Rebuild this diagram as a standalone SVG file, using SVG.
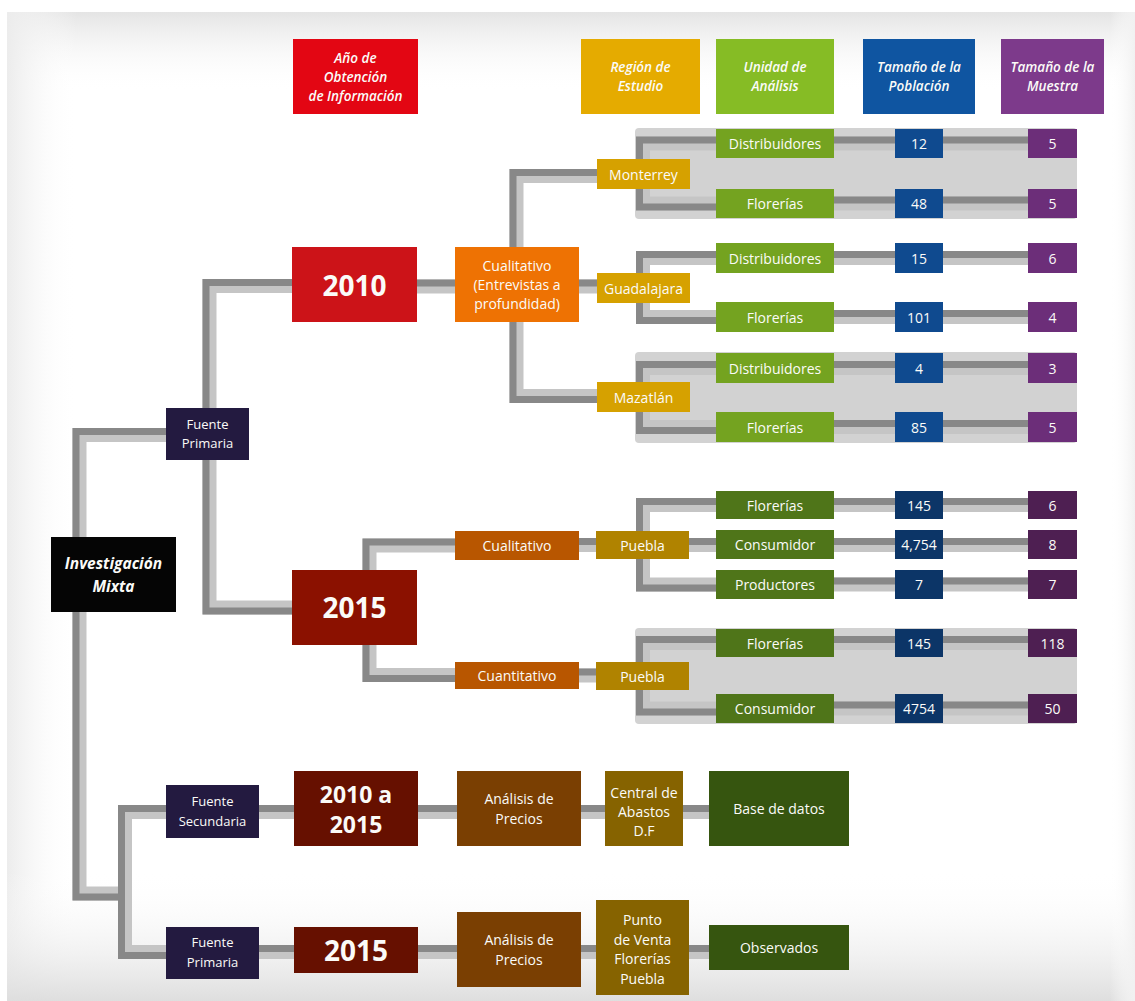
<svg xmlns="http://www.w3.org/2000/svg" width="1135" height="1001" viewBox="0 0 1135 1001">
<style>
.lt{fill:none;stroke:#c5c5c5;stroke-width:14}
.dk{fill:none;stroke:#888888;stroke-width:7}
.pn{fill:#d2d2d2}
text{font-family:"Open Sans","Liberation Sans",sans-serif;fill:#fbfbf8;text-anchor:middle;dominant-baseline:central;font-size:14px}
.hd{font-style:italic;font-weight:600;font-size:13.5px}
.yr{font-weight:700;font-size:28px}
.yr2{font-weight:700;font-size:23px}
.sm{font-size:13px}
.im{font-style:italic;font-weight:700;font-size:15.5px}
</style>
<defs>
<linearGradient id="gT" x1="0" y1="0" x2="0" y2="1"><stop offset="0" stop-color="#e4e4e4"/><stop offset="1" stop-color="#ffffff" stop-opacity="0"/></linearGradient>
<linearGradient id="gL" x1="0" y1="0" x2="1" y2="0"><stop offset="0" stop-color="#ececec"/><stop offset="1" stop-color="#ffffff" stop-opacity="0"/></linearGradient>
<linearGradient id="gB" x1="0" y1="1" x2="0" y2="0"><stop offset="0" stop-color="#dedede"/><stop offset="1" stop-color="#ffffff" stop-opacity="0"/></linearGradient>
<linearGradient id="gR" x1="1" y1="0" x2="0" y2="0"><stop offset="0" stop-color="#f1f1f1"/><stop offset="1" stop-color="#ffffff" stop-opacity="0"/></linearGradient>
</defs>
<g id="background">
<rect x="0" y="0" width="1135" height="1001" fill="#ffffff"/>
<rect x="7" y="12" width="1128" height="989" fill="#ffffff"/>
<rect x="7" y="12" width="1128" height="80" fill="url(#gT)"/>
<rect x="7" y="12" width="70" height="989" fill="url(#gL)"/>
<rect x="7" y="870" width="1128" height="131" fill="url(#gB)"/>
<rect x="1110" y="12" width="25" height="989" fill="url(#gR)"/>
</g>
<g id="panels">
<rect class="pn" x="635" y="128" width="442" height="91" rx="4"/>
<rect class="pn" x="635" y="352" width="442" height="91" rx="4"/>
<rect class="pn" x="635" y="628" width="442" height="96" rx="4"/>
</g>
<g id="connectors">
<path class="lt" d="M79.5,537 V435 H167"/>
<path class="dk" d="M76,537 V431.5 H167"/>
<path class="lt" d="M79.5,612 V893.5 H125"/>
<path class="dk" d="M76,612 V897 H125"/>
<path class="lt" d="M166,812 H125 V952 H166"/>
<path class="dk" d="M166,808.5 H121.5 V955.5 H166"/>
<path class="lt" d="M259,812 H709"/>
<path class="dk" d="M259,808.5 H709"/>
<path class="lt" d="M259,952 H709"/>
<path class="dk" d="M259,948.5 H709"/>
<path class="lt" d="M292,286 H209.5 V607.5 H292"/>
<path class="dk" d="M292,282.5 H206 V611 H292"/>
<path class="lt" d="M417,286.5 H597"/>
<path class="dk" d="M417,283 H597"/>
<path class="lt" d="M597,176 H516.5 V396 H597"/>
<path class="dk" d="M597,172.5 H513 V399.5 H597"/>
<path class="lt" d="M716,143.5 H643 V203.5 H716"/>
<path class="dk" d="M716,140 H639.5 V207 H716"/>
<path class="lt" d="M716,258 H643 V317 H716"/>
<path class="dk" d="M716,254.5 H639.5 V320.5 H716"/>
<path class="lt" d="M716,368 H643 V427 H716"/>
<path class="dk" d="M716,364.5 H639.5 V430.5 H716"/>
<path class="lt" d="M455,545.5 H369.5 V675 H455"/>
<path class="dk" d="M455,542 H366 V678.5 H455"/>
<path class="lt" d="M579,545 H1028"/>
<path class="dk" d="M579,541.5 H1028"/>
<path class="lt" d="M579,675.5 H596"/>
<path class="dk" d="M579,672 H596"/>
<path class="lt" d="M716,505 H643 V584.5 H716"/>
<path class="dk" d="M716,501.5 H639.5 V588 H716"/>
<path class="lt" d="M716,643 H643 V708.5 H716"/>
<path class="dk" d="M716,639.5 H639.5 V712 H716"/>
<path class="lt" d="M834,143.5 H1028 M834,203.5 H1028 M834,258 H1028 M834,317 H1028 M834,368 H1028 M834,427 H1028 M834,505 H1028 M834,584.5 H1028 M834,643 H1028 M834,708.5 H1028"/>
<path class="dk" d="M834,140 H1028 M834,200 H1028 M834,254.5 H1028 M834,313.5 H1028 M834,364.5 H1028 M834,423.5 H1028 M834,501.5 H1028 M834,581 H1028 M834,639.5 H1028 M834,705 H1028"/>
</g>
<g id="header-anio"><rect x="293" y="39" width="125" height="75" fill="#e30613"/><text class="hd" x="355.5" y="58">Año de</text><text class="hd" x="355.5" y="77">Obtención</text><text class="hd" x="355.5" y="96">de Información</text></g>
<g id="header-region"><rect x="581" y="39" width="119" height="75" fill="#e5ab00"/><text class="hd" x="640.5" y="67">Región de</text><text class="hd" x="640.5" y="86">Estudio</text></g>
<g id="header-unidad"><rect x="716" y="39" width="118" height="75" fill="#86bc25"/><text class="hd" x="775" y="67">Unidad de</text><text class="hd" x="775" y="86">Análisis</text></g>
<g id="header-poblacion"><rect x="863" y="39" width="112" height="75" fill="#0f55a1"/><text class="hd" x="919" y="67">Tamaño de la</text><text class="hd" x="919" y="86">Población</text></g>
<g id="header-muestra"><rect x="1001" y="39" width="103" height="75" fill="#7d3a8b"/><text class="hd" x="1052.5" y="67">Tamaño de la</text><text class="hd" x="1052.5" y="86">Muestra</text></g>
<g id="investigacion"><rect x="51" y="537" width="125" height="75" fill="#050505"/><text class="im" x="113.5" y="563">Investigación</text><text class="im" x="113.5" y="586">Mixta</text></g>
<g id="fuente-primaria-1"><rect x="166" y="408" width="83" height="52" fill="#231a40"/><text class="sm" x="207.5" y="424">Fuente</text><text class="sm" x="207.5" y="443">Primaria</text></g>
<g id="y2010"><rect x="292" y="247" width="125" height="75" fill="#cc1318"/><text class="yr" x="354.5" y="285">2010</text></g>
<g id="y2015"><rect x="292" y="570" width="125" height="75" fill="#8b1100"/><text class="yr" x="354.5" y="607">2015</text></g>
<g id="cualitativo-2010"><rect x="455" y="247" width="124" height="75" fill="#ee7203"/><text x="517" y="265">Cualitativo</text><text x="517" y="284">(Entrevistas a</text><text x="517" y="303">profundidad)</text></g>
<g id="monterrey"><rect x="597" y="159" width="93" height="30" fill="#d6a100"/><text x="643.5" y="174">Monterrey</text></g>
<g id="guadalajara"><rect x="597" y="273" width="93" height="30" fill="#d6a100"/><text x="643.5" y="288">Guadalajara</text></g>
<g id="mazatlan"><rect x="597" y="382" width="93" height="30" fill="#d6a100"/><text x="643.5" y="397">Mazatlán</text></g>
<g id="mty-distribuidores"><rect x="716" y="129" width="118" height="29" fill="#74a320"/><text x="775" y="143.5">Distribuidores</text></g>
<g id="mty-florerias"><rect x="716" y="189" width="118" height="29" fill="#74a320"/><text x="775" y="203.5">Florerías</text></g>
<g id="gdl-distribuidores"><rect x="716" y="243" width="118" height="30" fill="#74a320"/><text x="775" y="258">Distribuidores</text></g>
<g id="gdl-florerias"><rect x="716" y="302" width="118" height="30" fill="#74a320"/><text x="775" y="317">Florerías</text></g>
<g id="maz-distribuidores"><rect x="716" y="353" width="118" height="30" fill="#74a320"/><text x="775" y="368">Distribuidores</text></g>
<g id="maz-florerias"><rect x="716" y="412" width="118" height="30" fill="#74a320"/><text x="775" y="427">Florerías</text></g>
<g id="pob-12"><rect x="895" y="129" width="48" height="29" fill="#0f4a8f"/><text x="919" y="143.5">12</text></g>
<g id="pob-48"><rect x="895" y="189" width="48" height="29" fill="#0f4a8f"/><text x="919" y="203.5">48</text></g>
<g id="pob-15"><rect x="895" y="243" width="48" height="30" fill="#0f4a8f"/><text x="919" y="258">15</text></g>
<g id="pob-101"><rect x="895" y="302" width="48" height="30" fill="#0f4a8f"/><text x="919" y="317">101</text></g>
<g id="pob-4"><rect x="895" y="353" width="48" height="30" fill="#0f4a8f"/><text x="919" y="368">4</text></g>
<g id="pob-85"><rect x="895" y="412" width="48" height="30" fill="#0f4a8f"/><text x="919" y="427">85</text></g>
<g id="mue-5a"><rect x="1028" y="129" width="49" height="29" fill="#6c2e79"/><text x="1052.5" y="143.5">5</text></g>
<g id="mue-5b"><rect x="1028" y="189" width="49" height="29" fill="#6c2e79"/><text x="1052.5" y="203.5">5</text></g>
<g id="mue-6"><rect x="1028" y="243" width="49" height="30" fill="#6c2e79"/><text x="1052.5" y="258">6</text></g>
<g id="mue-4"><rect x="1028" y="302" width="49" height="30" fill="#6c2e79"/><text x="1052.5" y="317">4</text></g>
<g id="mue-3"><rect x="1028" y="353" width="49" height="30" fill="#6c2e79"/><text x="1052.5" y="368">3</text></g>
<g id="mue-5c"><rect x="1028" y="412" width="49" height="30" fill="#6c2e79"/><text x="1052.5" y="427">5</text></g>
<g id="cualitativo-2015"><rect x="455" y="531" width="124" height="29" fill="#b85600"/><text x="517" y="545.5">Cualitativo</text></g>
<g id="cuantitativo-2015"><rect x="455" y="662" width="124" height="27" fill="#b85600"/><text x="517" y="675.5">Cuantitativo</text></g>
<g id="puebla-1"><rect x="596" y="531" width="93" height="28" fill="#b08300"/><text x="642.5" y="545">Puebla</text></g>
<g id="puebla-2"><rect x="596" y="662" width="93" height="28" fill="#b08300"/><text x="642.5" y="676">Puebla</text></g>
<g id="pb1-florerias"><rect x="716" y="491" width="118" height="28" fill="#4f7519"/><text x="775" y="505">Florerías</text></g>
<g id="pb1-consumidor"><rect x="716" y="530" width="118" height="29" fill="#4f7519"/><text x="775" y="544.5">Consumidor</text></g>
<g id="pb1-productores"><rect x="716" y="570" width="118" height="29" fill="#4f7519"/><text x="775" y="584.5">Productores</text></g>
<g id="pb2-florerias"><rect x="716" y="629" width="118" height="28" fill="#4f7519"/><text x="775" y="643">Florerías</text></g>
<g id="pb2-consumidor"><rect x="716" y="694" width="118" height="29" fill="#4f7519"/><text x="775" y="708.5">Consumidor</text></g>
<g id="pob-145a"><rect x="895" y="491" width="48" height="28" fill="#0c3567"/><text x="919" y="505">145</text></g>
<g id="pob-4754a"><rect x="895" y="530" width="48" height="29" fill="#0c3567"/><text x="919" y="544.5">4,754</text></g>
<g id="pob-7"><rect x="895" y="570" width="48" height="29" fill="#0c3567"/><text x="919" y="584.5">7</text></g>
<g id="pob-145b"><rect x="895" y="629" width="48" height="28" fill="#0c3567"/><text x="919" y="643">145</text></g>
<g id="pob-4754b"><rect x="895" y="694" width="48" height="29" fill="#0c3567"/><text x="919" y="708.5">4754</text></g>
<g id="mue-6b"><rect x="1028" y="491" width="49" height="28" fill="#4e1f52"/><text x="1052.5" y="505">6</text></g>
<g id="mue-8"><rect x="1028" y="530" width="49" height="29" fill="#4e1f52"/><text x="1052.5" y="544.5">8</text></g>
<g id="mue-7"><rect x="1028" y="570" width="49" height="29" fill="#4e1f52"/><text x="1052.5" y="584.5">7</text></g>
<g id="mue-118"><rect x="1028" y="629" width="49" height="28" fill="#4e1f52"/><text x="1052.5" y="643">118</text></g>
<g id="mue-50"><rect x="1028" y="694" width="49" height="29" fill="#4e1f52"/><text x="1052.5" y="708.5">50</text></g>
<g id="fuente-secundaria"><rect x="166" y="785" width="93" height="53" fill="#231a40"/><text class="sm" x="212.5" y="801">Fuente</text><text class="sm" x="212.5" y="821">Secundaria</text></g>
<g id="y2010a2015"><rect x="294" y="771" width="124" height="75" fill="#661000"/><text class="yr2" x="356" y="794">2010 a</text><text class="yr2" x="356" y="824">2015</text></g>
<g id="analisis-1"><rect x="457" y="771" width="124" height="75" fill="#7a3f02"/><text x="519" y="798">Análisis de</text><text x="519" y="818">Precios</text></g>
<g id="central"><rect x="605" y="771" width="78" height="75" fill="#866300"/><text x="644" y="792">Central de</text><text x="644" y="811">Abastos</text><text x="644" y="830">D.F</text></g>
<g id="base-datos"><rect x="709" y="771" width="140" height="75" fill="#36550f"/><text x="779" y="808">Base de datos</text></g>
<g id="fuente-primaria-2"><rect x="166" y="927" width="93" height="52" fill="#231a40"/><text class="sm" x="212.5" y="942">Fuente</text><text class="sm" x="212.5" y="962">Primaria</text></g>
<g id="y2015b"><rect x="294" y="927" width="124" height="46" fill="#661000"/><text class="yr" x="356" y="950">2015</text></g>
<g id="analisis-2"><rect x="457" y="912" width="124" height="75" fill="#7a3f02"/><text x="519" y="939">Análisis de</text><text x="519" y="959">Precios</text></g>
<g id="punto-venta"><rect x="596" y="900" width="93" height="95" fill="#866300"/><text x="642.5" y="919">Punto</text><text x="642.5" y="939">de Venta</text><text x="642.5" y="958">Florerías</text><text x="642.5" y="978">Puebla</text></g>
<g id="observados"><rect x="709" y="925" width="140" height="45" fill="#36550f"/><text x="779" y="947">Observados</text></g>
</svg>
